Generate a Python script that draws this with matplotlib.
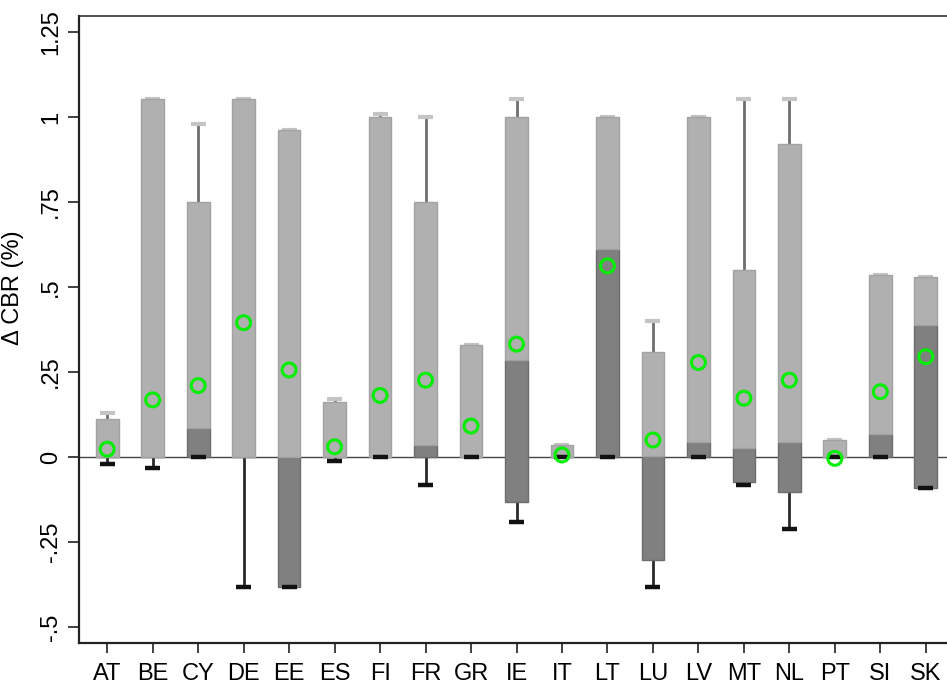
import matplotlib
matplotlib.use("Agg")
import matplotlib.pyplot as plt
import numpy as np

plt.rcParams['font.family'] = ['Liberation Sans', 'DejaVu Sans']

countries = ['AT', 'BE', 'CY', 'DE', 'EE', 'ES', 'FI', 'FR', 'GR', 'IE',
             'IT', 'LT', 'LU', 'LV', 'MT', 'NL', 'PT', 'SI', 'SK']
p25 = [0, 0, 0, 0, -0.381, 0, 0, 0, 0, -0.131,
       0, 0, -0.303, 0, -0.073, -0.104, 0, 0, -0.09]
median = [0, 0, 0.084, 0, 0, 0, 0, 0.035, 0, 0.285,
          0, 0.612, 0.004, 0.045, 0.027, 0.045, 0, 0.067, 0.388]
p75 = [0.111, 1.053, 0.751, 1.053, 0.961, 0.161, 1.0, 0.751, 0.33, 1.0,
       0.035, 1.0, 0.31, 1.0, 0.55, 0.92, 0.05, 0.535, 0.53]
upper_adj = [0.13, 1.053, 0.978, 1.053, 0.961, 0.171, 1.01, 1.0, 0.33, 1.053,
             0.035, 1.0, 0.40, 1.0, 1.053, 1.053, 0.05, 0.535, 0.53]
lower_adj = [-0.02, -0.031, 0, -0.381, -0.381, -0.011, 0, -0.082, 0, -0.191,
             0, 0, -0.381, 0, -0.082, -0.212, 0, 0, -0.09]
means = [0.023, 0.168, 0.21, 0.395, 0.256, 0.030, 0.181, 0.226, 0.091, 0.332,
         0.006, 0.562, 0.05, 0.278, 0.173, 0.226, -0.004, 0.192, 0.295]

yticks = [-0.5, -0.25, 0, 0.25, 0.5, 0.75, 1, 1.25]
ytick_labels = ['-.5', '-.25', '0', '.25', '.5', '.75', '1', '1.25']

W, H = 947, 690
fig = plt.figure(figsize=(W / 100, H / 100), dpi=100)
ax = fig.add_axes([79 / W, (H - 643) / H, 875 / W, (643 - 16) / H])

x = np.arange(1, len(countries) + 1)
p25a = np.array(p25)
meda = np.array(median)
p75a = np.array(p75)

box_w = 0.5
cap_w = 0.33

ax.axhline(0, color='#444444', lw=1.0, zorder=1)

# lower whiskers
ax.vlines(x, lower_adj, p25a, color='#2a2a2a', lw=2.0, zorder=2)
ax.hlines(lower_adj, x - cap_w / 2, x + cap_w / 2, color='#111111', lw=3.2, zorder=4)
# upper whiskers
ax.vlines(x, p75a, upper_adj, color='#6e6e6e', lw=2.0, zorder=2)
ax.hlines(upper_adj, x - cap_w / 2, x + cap_w / 2, color='#c4c4c4', lw=3.0, zorder=2.5)

# boxes
ax.bar(x, meda - p25a, bottom=p25a, width=box_w, color='#808080',
       edgecolor='#6c6c6c', linewidth=1.0, zorder=3)
ax.bar(x, p75a - meda, bottom=meda, width=box_w, color='#b0b0b0',
       edgecolor='#a2a2a2', linewidth=1.0, zorder=3)

# means
ax.scatter(x, means, s=100, facecolors='none', edgecolors='#00ee00',
           linewidths=2.2, zorder=5)

ax.set_xlim(0.38, 19.62)
ax.set_ylim(-0.547, 1.297)
ax.set_xticks(x)
ax.set_xticklabels(countries, fontsize=17)
ax.set_yticks(yticks)
ax.set_yticklabels(ytick_labels, fontsize=17, rotation=90, va='center')
ax.tick_params(axis='y', length=8, width=1.3, pad=4, color='#333333')
ax.tick_params(axis='x', length=7.5, width=1.3, pad=7, color='#333333')

ax.set_ylabel('Δ CBR (%)', fontsize=17)
ax.yaxis.set_label_coords(-0.063, 0.566)

for side in ['left', 'bottom']:
    ax.spines[side].set_linewidth(1.6)
    ax.spines[side].set_color('#222222')
ax.spines['top'].set_linewidth(1.2)
ax.spines['top'].set_color('#333333')
ax.spines['right'].set_visible(False)

fig.savefig('out.png', dpi=100)
